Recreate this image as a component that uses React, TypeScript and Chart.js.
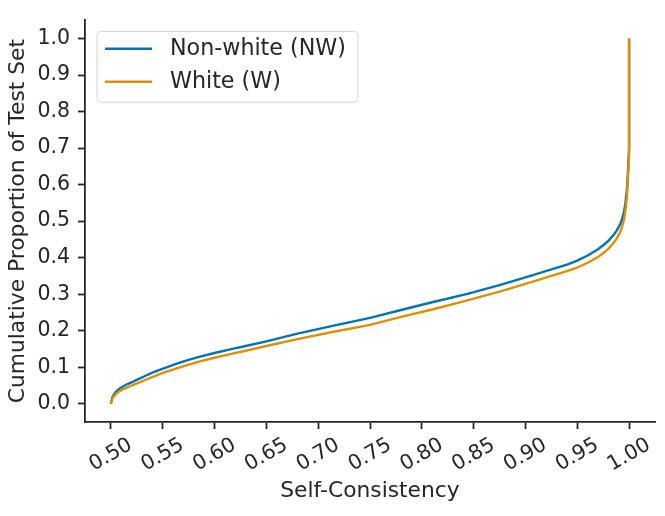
import React, { useEffect, useRef } from 'react';
import { Chart, registerables } from 'chart.js';

Chart.register(...registerables);

const seriesNames = ['Non-white (NW)', 'White (W)'];
const seriesColors = ['#0173b2', '#de8f05'];

const nwX = [0.5, 0.5005, 0.501, 0.502, 0.5035, 0.505, 0.508, 0.512, 0.516, 0.521, 0.527, 0.533, 0.54, 0.547, 0.555, 0.565, 0.575, 0.586, 0.6, 0.615, 0.63, 0.65, 0.68, 0.715, 0.75, 0.779, 0.81, 0.844, 0.875, 0.908, 0.925, 0.94, 0.95, 0.96, 0.97, 0.975, 0.98, 0.985, 0.988, 0.991, 0.993, 0.995, 0.9965, 0.998, 0.999, 1.0, 1.0];
const nwY = [0.0, 0.008, 0.014, 0.021, 0.028, 0.033, 0.041, 0.048, 0.054, 0.06, 0.068, 0.076, 0.085, 0.093, 0.101, 0.111, 0.12, 0.129, 0.139, 0.149, 0.158, 0.171, 0.192, 0.214, 0.235, 0.256, 0.278, 0.301, 0.325, 0.353, 0.368, 0.381, 0.392, 0.406, 0.423, 0.434, 0.446, 0.462, 0.474, 0.489, 0.503, 0.524, 0.55, 0.59, 0.64, 0.7, 1.0];

const wX = [0.5, 0.5005, 0.501, 0.502, 0.5035, 0.505, 0.508, 0.512, 0.516, 0.521, 0.527, 0.533, 0.54, 0.547, 0.555, 0.565, 0.575, 0.586, 0.6, 0.615, 0.63, 0.65, 0.68, 0.715, 0.75, 0.779, 0.81, 0.844, 0.875, 0.908, 0.925, 0.94, 0.95, 0.96, 0.97, 0.975, 0.98, 0.985, 0.988, 0.991, 0.993, 0.995, 0.9965, 0.998, 0.999, 1.0, 1.0];
const wY = [0.0, 0.006, 0.011, 0.017, 0.022, 0.027, 0.034, 0.04, 0.045, 0.051, 0.058, 0.065, 0.073, 0.081, 0.089, 0.098, 0.107, 0.116, 0.126, 0.136, 0.145, 0.158, 0.177, 0.197, 0.216, 0.237, 0.258, 0.283, 0.307, 0.335, 0.35, 0.363, 0.373, 0.386, 0.402, 0.412, 0.424, 0.44, 0.452, 0.468, 0.482, 0.503, 0.528, 0.57, 0.62, 0.68, 1.0];

const xTicks = [0.5, 0.55, 0.6, 0.65, 0.7, 0.75, 0.8, 0.85, 0.9, 0.95, 1.0];
const xTickLabels = ['0.50', '0.55', '0.60', '0.65', '0.70', '0.75', '0.80', '0.85', '0.90', '0.95', '1.00'];
const yTicks = [0.0, 0.1, 0.2, 0.3, 0.4, 0.5, 0.6, 0.7, 0.8, 0.9, 1.0];
const yTickLabels = ['0.0', '0.1', '0.2', '0.3', '0.4', '0.5', '0.6', '0.7', '0.8', '0.9', '1.0'];

const xAxisTitle = 'Self-Consistency';
const yAxisTitle = 'Cumulative Proportion of Test Set';

const INK = '#262626';
const FONT = 'DejaVu Sans';

const xLabelPlugin = {
  id: 'xLabels',
  afterDraw(chart: any) {
    const ctx = chart.ctx;
    const xs = chart.scales.x;
    ctx.save();
    ctx.fillStyle = INK;
    ctx.font = `20.5px "${FONT}"`;
    ctx.textAlign = 'center';
    ctx.textBaseline = 'middle';
    xTicks.forEach((v, i) => {
      const px = xs.getPixelForValue(v);
      ctx.save();
      ctx.translate(px, xs.top + 33);
      ctx.rotate(-Math.PI / 6);
      ctx.fillText(xTickLabels[i], 0, 0);
      ctx.restore();
    });
    ctx.restore();
  },
};

const legendPlugin = {
  id: 'boxLegend',
  afterDraw(chart: any) {
    const ctx = chart.ctx;
    const area = chart.chartArea;
    const x0 = area.left + 12;
    const y0 = area.top + 11;
    const w = 261;
    const h = 71;
    const r = 4;
    ctx.save();
    ctx.beginPath();
    ctx.moveTo(x0 + r, y0);
    ctx.lineTo(x0 + w - r, y0);
    ctx.quadraticCurveTo(x0 + w, y0, x0 + w, y0 + r);
    ctx.lineTo(x0 + w, y0 + h - r);
    ctx.quadraticCurveTo(x0 + w, y0 + h, x0 + w - r, y0 + h);
    ctx.lineTo(x0 + r, y0 + h);
    ctx.quadraticCurveTo(x0, y0 + h, x0, y0 + h - r);
    ctx.lineTo(x0, y0 + r);
    ctx.quadraticCurveTo(x0, y0, x0 + r, y0);
    ctx.closePath();
    ctx.fillStyle = 'rgba(255,255,255,0.8)';
    ctx.fill();
    ctx.strokeStyle = 'rgba(204,204,204,0.8)';
    ctx.lineWidth = 1;
    ctx.stroke();
    chart.data.datasets.forEach((ds: any, i: number) => {
      const ly = y0 + 17.5 + i * 33;
      ctx.beginPath();
      ctx.moveTo(x0 + 8, ly);
      ctx.lineTo(x0 + 55, ly);
      ctx.strokeStyle = ds.borderColor;
      ctx.lineWidth = 2.4;
      ctx.stroke();
      ctx.fillStyle = INK;
      ctx.font = `22.2px "${FONT}"`;
      ctx.textAlign = 'left';
      ctx.textBaseline = 'middle';
      ctx.fillText(ds.label, x0 + 73, ly);
    });
    ctx.restore();
  },
};

export default function App() {
  const ref = useRef<HTMLCanvasElement | null>(null);
  useEffect(() => {
    if (!ref.current) return;
    const chart = new Chart(ref.current, {
      type: 'line',
      data: {
        datasets: [
          {
            label: seriesNames[0],
            data: nwX.map((x, i) => ({ x, y: nwY[i] })),
            borderColor: seriesColors[0],
            backgroundColor: seriesColors[0],
            borderWidth: 2.4,
            pointRadius: 0,
            tension: 0,
            borderJoinStyle: 'round',
            order: 1,
          },
          {
            label: seriesNames[1],
            data: wX.map((x, i) => ({ x, y: wY[i] })),
            borderColor: seriesColors[1],
            backgroundColor: seriesColors[1],
            borderWidth: 2.4,
            pointRadius: 0,
            tension: 0,
            borderJoinStyle: 'round',
            order: 0,
          },
        ],
      },
      options: {
        responsive: false,
        animation: false,
        devicePixelRatio: 1,
        layout: { padding: { left: 0, right: 10, top: 11, bottom: 0 } },
        plugins: { legend: { display: false }, tooltip: { enabled: false } },
        scales: {
          x: {
            type: 'linear',
            min: 0.475,
            max: 1.025,
            afterBuildTicks: (s: any) => {
              s.ticks = xTicks.map((v) => ({ value: v }));
            },
            afterFit: (s: any) => {
              s.height = 94;
            },
            ticks: { display: false, autoSkip: false },
            grid: {
              display: true,
              drawOnChartArea: false,
              drawTicks: true,
              tickLength: 7,
              tickWidth: 1.8,
              tickColor: INK,
            },
            border: { display: true, color: INK, width: 1.8 },
            title: {
              display: true,
              text: xAxisTitle,
              color: INK,
              font: { family: FONT, size: 21.8 },
              padding: { top: 0, bottom: 11.3 },
            },
          },
          y: {
            type: 'linear',
            min: -0.05,
            max: 1.05,
            afterBuildTicks: (s: any) => {
              s.ticks = yTicks.map((v) => ({ value: v }));
            },
            afterFit: (s: any) => {
              s.width = 85;
            },
            ticks: {
              autoSkip: false,
              color: INK,
              padding: 8,
              font: { family: FONT, size: 20.5 },
              callback: (v: any) => {
                const idx = yTicks.findIndex((t) => Math.abs(t - v) < 1e-9);
                return idx >= 0 ? yTickLabels[idx] : '';
              },
            },
            grid: {
              display: true,
              drawOnChartArea: false,
              drawTicks: true,
              tickLength: 7,
              tickWidth: 1.8,
              tickColor: INK,
            },
            border: { display: true, color: INK, width: 1.8 },
            title: {
              display: true,
              text: yAxisTitle,
              color: INK,
              font: { family: FONT, size: 21.8 },
              padding: { top: 5.5, bottom: 0 },
            },
          },
        },
      },
      plugins: [xLabelPlugin, legendPlugin],
    } as any);
    return () => chart.destroy();
  }, []);
  return (
    <div style={{ position: 'fixed', left: 0, top: 0, width: 665, height: 516, background: '#fff' }}>
      <canvas ref={ref} width={665} height={516} style={{ width: 665, height: 516 }} />
    </div>
  );
}
